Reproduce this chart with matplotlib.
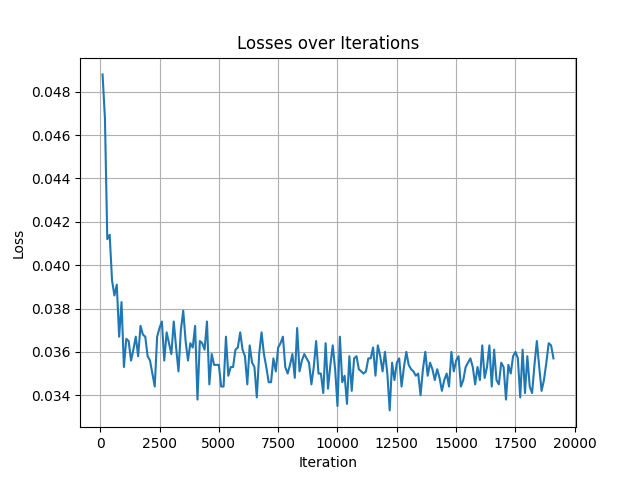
import numpy as np
import matplotlib
matplotlib.use("Agg")
import matplotlib.pyplot as plt

iterations = list(range(100, 19101, 100))
losses = [
    0.0488, 0.0468, 0.0412, 0.0414, 0.0393, 0.0386, 0.0391, 0.0367, 0.0383, 0.0353,
    0.0366, 0.0365, 0.0356, 0.0361, 0.0367, 0.0358, 0.0372, 0.0368, 0.0367, 0.0358,
    0.0356, 0.0350, 0.0344, 0.0367, 0.0371, 0.0374, 0.0356, 0.0369, 0.0364, 0.0359,
    0.0374, 0.0362, 0.0351, 0.0370, 0.0379, 0.0365, 0.0356, 0.0364, 0.0362, 0.0372,
    0.0338, 0.0365, 0.0364, 0.0361, 0.0374, 0.0345, 0.0359, 0.0354, 0.0354, 0.0354,
    0.0344, 0.0344, 0.0367, 0.0349, 0.0353, 0.0353, 0.0361, 0.0362, 0.0369, 0.0361,
    0.0358, 0.0345, 0.0363, 0.0355, 0.0353, 0.0339, 0.0359, 0.0369, 0.0359, 0.0353,
    0.0346, 0.0346, 0.0357, 0.0351, 0.0362, 0.0364, 0.0367, 0.0353, 0.0350, 0.0354,
    0.0359, 0.0348, 0.0371, 0.0351, 0.0356, 0.0359, 0.0357, 0.0355, 0.0345, 0.0353,
    0.0365, 0.0350, 0.0350, 0.0341, 0.0364, 0.0343, 0.0354, 0.0363, 0.0352, 0.0335,
    0.0367, 0.0346, 0.0349, 0.0336, 0.0358, 0.0342, 0.0357, 0.0358, 0.0352, 0.0351,
    0.0350, 0.0351, 0.0357, 0.0357, 0.0362, 0.0349, 0.0363, 0.0358, 0.0351, 0.0360,
    0.0350, 0.0333, 0.0355, 0.0347, 0.0355, 0.0357, 0.0344, 0.0353, 0.0360, 0.0354,
    0.0352, 0.0351, 0.0349, 0.0350, 0.0340, 0.0352, 0.0360, 0.0349, 0.0355, 0.0352,
    0.0347, 0.0352, 0.0348, 0.0342, 0.0347, 0.0350, 0.0344, 0.0360, 0.0351, 0.0356,
    0.0358, 0.0344, 0.0347, 0.0353, 0.0355, 0.0357, 0.0353, 0.0345, 0.0353, 0.0347,
    0.0363, 0.0348, 0.0353, 0.0363, 0.0344, 0.0361, 0.0347, 0.0345, 0.0355, 0.0353,
    0.0338, 0.0354, 0.0350, 0.0358, 0.0360, 0.0357, 0.0339, 0.0361, 0.0341, 0.0358,
    0.0344, 0.0341, 0.0354, 0.0365, 0.0353, 0.0342, 0.0347, 0.0355, 0.0364, 0.0363,
    0.0357,
]

fig, ax = plt.subplots(figsize=(6.4, 4.8), dpi=100)
ax.plot(iterations, losses)
ax.set_title("Losses over Iterations")
ax.set_xlabel("Iteration")
ax.set_ylabel("Loss")
ax.grid(True)
fig.savefig("out.png")
